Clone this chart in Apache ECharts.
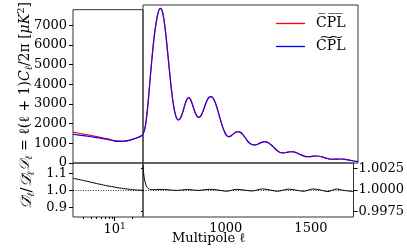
<!DOCTYPE html>
<html><head><meta charset="utf-8">
<script src="https://cdn.jsdelivr.net/npm/echarts@6/dist/echarts.min.js"></script>
<style>html,body{margin:0;padding:0;background:#fff}#c{width:407px;height:252px}</style>
</head><body><div id="c"></div><script>
// ---- data ----
const ellLow = [2,3,4,5,6,7,8,10,12,14,17,20,24,27,30];
const redLow = [1564,1471,1399,1342,1293,1250,1215,1136,1115,1117,1148,1205,1283,1351,1430];
const blueLow = [1460,1390,1335,1290,1250,1215,1185,1115,1100,1105,1140,1200,1280,1350,1430];
const ratioLow = [1.071,1.058,1.048,1.040,1.034,1.029,1.025,1.019,1.014,1.011,1.007,1.004,1.002,1.001,1.000];

const ellHigh = [30,45,60,75,90,105,120,135,150,165,180,195,210,225,240,255,270,285,300,315,330,345,360,375,390,405,420,435,450,470,490,510,530,550,570,590,610,630,650,670,690,710,730,750,770,790,810,830,850,870,890,910,930,950,970,990,1010,1030,1050,1075,1100,1125,1150,1175,1200,1225,1250,1275,1300,1330,1360,1395,1430,1465,1500,1535,1570,1605,1640,1680,1720,1760,1800,1840,1880,1915,1950,1990,2030,2070,2110,2150,2200,2250,2300,2350,2400,2450,2500];
// red and blue coincide at this resolution in the linear part
const dHighShared = [1430,1600,1900,2400,3050,3800,4550,5250,5900,6450,6900,7250,7500,7620,7600,7420,7080,6600,6020,5380,4720,4080,3500,3000,2620,2350,2180,2120,2150,2300,2550,2850,3100,3220,3170,2980,2720,2480,2310,2250,2300,2450,2680,2920,3120,3240,3270,3220,3080,2860,2580,2270,1980,1720,1510,1360,1300,1310,1370,1460,1530,1550,1510,1410,1270,1120,1000,920,890,900,950,1020,1050,1010,900,760,620,520,500,520,555,550,490,410,340,310,315,335,345,320,270,220,185,190,197,180,145,100,65];

const ellRatioHigh = [30,34,38,43,50,58,68,80,95,115,150,230,330,430,550,680,810,910,1010,1125,1215,1305,1432,1520,1604,1738,1820,1911,2026,2110,2200,2300,2360,2420,2500];
const ratioHigh = [1.0029,1.0024,1.0019,1.0015,1.0011,1.0008,1.0005,1.0003,1.00015,1.00006,1.00003,1.00008,1.00002,0.99995,1.00006,0.99995,1.00008,1.0,0.99985,1.00008,1.0,0.99988,1.00012,1.0,0.99985,1.0001,1.0,0.99985,1.00012,1.0,0.99982,1.00012,1.0,0.9999,0.99982];

const yTicksTop = [0,1000,2000,3000,4000,5000,6000,7000];
const yTicksRatioL = [0.9, 1.0, 1.1];
const yTicksRatioR = [0.9975, 1.0, 1.0025];
const xMajorLog = [10];
const xMinorLog = [3,4,5,6,7,8,9,20];
const xTickVals = [1000, 2000];
const xTickLabels = ['1000', '1500'];
const legendNames = {bar: 'C\u0305P\u0305L\u0305', tilde: 'C\u0360P\u0360L'};

const zip = (a, b) => a.map((v, i) => [v, b[i]]);
const FONT = 'DejaVu Serif';
const hid = {axisLine:{show:false}, axisTick:{show:false}, axisLabel:{show:false}, splitLine:{show:false}};
const tk = (len) => ({show:true, length:len, lineStyle:{color:'#000', width:1}});

const chart = echarts.init(document.getElementById('c'), null, {renderer:'canvas'});
const dotted = {silent:true, symbol:'none', label:{show:false}, animation:false,
  lineStyle:{type:[1,1.5], color:'#000', width:0.8}, data:[{yAxis:1}]};

chart.setOption({
  animation:false,
  textStyle:{fontFamily:FONT, color:'#000'},
  grid:[
    {left:73, top:5, width:70, height:158, show:true, borderColor:'#333', borderWidth:1},
    {left:143, top:5, width:215, height:158, show:true, borderColor:'#333', borderWidth:1},
    {left:73, top:163, width:70, height:54, show:true, borderColor:'#333', borderWidth:1},
    {left:143, top:163, width:215, height:54, show:true, borderColor:'#333', borderWidth:1}
  ],
  xAxis:[
    Object.assign({type:'log', gridIndex:0, min:2, max:30, position:'bottom'}, hid),
    Object.assign({type:'value', gridIndex:1, min:30, max:2500, position:'bottom'}, hid),
    {type:'log', gridIndex:2, min:2, max:30, position:'bottom', axisLine:{show:false}, splitLine:{show:false},
      axisTick:Object.assign(tk(4), {customValues:xMajorLog}),
      axisLabel:{customValues:xMajorLog, margin:5, fontFamily:FONT, fontSize:13, color:'#000',
        formatter:() => '{b|10}{s|1}',
        rich:{b:{fontFamily:FONT, fontSize:13, lineHeight:16}, s:{fontFamily:FONT, fontSize:9, lineHeight:8, verticalAlign:'top'}}}},
    {type:'log', gridIndex:2, min:2, max:30, position:'bottom', offset:0, axisLine:{show:false}, splitLine:{show:false},
      axisTick:Object.assign(tk(2), {customValues:xMinorLog}), axisLabel:{show:false}},
    {type:'value', gridIndex:3, min:30, max:2500, position:'bottom', axisLine:{show:false}, splitLine:{show:false},
      axisTick:{show:false},
      axisLabel:{customValues:xTickVals, margin:5, fontFamily:FONT, fontSize:13, color:'#000',
        formatter:(v) => xTickLabels[xTickVals.indexOf(v)]}}
  ],
  yAxis:[
    {type:'value', gridIndex:0, min:0, max:7790, axisLine:{show:false}, splitLine:{show:false},
      axisTick:Object.assign(tk(4), {customValues:yTicksTop}),
      axisLabel:{customValues:yTicksTop, margin:6, fontFamily:FONT, fontSize:13, color:'#000', formatter:(v) => String(v)},
      name:'{i|𝒟}{s|ℓ} = ℓ(ℓ + 1){i|C}{s|ℓ}/2π [{i|μK}{p|2}]', nameLocation:'middle', nameGap:39, nameRotate:90,
      nameMoveOverlap:false,
      nameTextStyle:{fontFamily:FONT, fontSize:14, color:'#000', lineHeight:18,
        rich:{i:{fontFamily:FONT, fontSize:14, fontStyle:'italic', lineHeight:18},
              s:{fontFamily:FONT, fontSize:10, fontStyle:'italic', lineHeight:10, verticalAlign:'bottom'},
              p:{fontFamily:FONT, fontSize:10, lineHeight:10, verticalAlign:'top'}}}},
    Object.assign({type:'value', gridIndex:1, min:0, max:7790}, hid),
    {type:'value', gridIndex:2, min:0.843, max:1.161, axisLine:{show:false}, splitLine:{show:false},
      axisTick:Object.assign(tk(4), {customValues:yTicksRatioL}),
      axisLabel:{customValues:yTicksRatioL, margin:6, fontFamily:FONT, fontSize:13, color:'#000',
        formatter:(v) => v.toFixed(1)},
      name:'{i|𝒟\u0304}{s|ℓ}/{i|𝒟\u0303}{s|ℓ}', nameLocation:'middle', nameGap:37, nameRotate:90,
      nameMoveOverlap:false,
      nameTextStyle:{fontFamily:FONT, fontSize:15, color:'#000', lineHeight:18,
        rich:{i:{fontFamily:FONT, fontSize:15, fontStyle:'italic', lineHeight:18},
              s:{fontFamily:FONT, fontSize:10, fontStyle:'italic', lineHeight:10, verticalAlign:'bottom'}}}},
    {type:'value', gridIndex:3, position:'right', min:0.99684, max:1.00316, axisLine:{show:false}, splitLine:{show:false},
      axisTick:Object.assign(tk(4), {customValues:yTicksRatioR}),
      axisLabel:{customValues:yTicksRatioR, margin:5, fontFamily:FONT, fontSize:13, color:'#000',
        formatter:(v) => v.toFixed(4)}},
    {type:'value', gridIndex:3, position:'left', min:0.99684, max:1.00316, axisLine:{show:false}, splitLine:{show:false},
      axisTick:Object.assign(tk(2), {customValues:yTicksRatioR}), axisLabel:{show:false}}
  ],
  legend:{left:276, top:16, padding:0, orient:'vertical', icon:'rect', itemWidth:29, itemHeight:1.3, itemGap:8,
    data:['bar','tilde'], formatter:(n) => legendNames[n],
    textStyle:{fontFamily:FONT, fontSize:14, color:'#000', lineHeight:15, padding:[0,0,0,6]}},
  title:{text:'Multipole ℓ', left:172, top:232, padding:0,
    textStyle:{fontFamily:FONT, fontSize:13, fontWeight:'normal', color:'#000'}},
  series:[
    {name:'bar', type:'line', xAxisIndex:0, yAxisIndex:0, data:zip(ellLow, redLow), smooth:0.3, showSymbol:false,
      lineStyle:{color:'#ff0000', width:1.2}, itemStyle:{color:'#ff0000'}},
    {name:'tilde', type:'line', xAxisIndex:0, yAxisIndex:0, data:zip(ellLow, blueLow), smooth:0.3, showSymbol:false,
      lineStyle:{color:'#0000ff', width:1.2}, itemStyle:{color:'#0000ff'}},
    {name:'bar', type:'line', xAxisIndex:1, yAxisIndex:1, data:zip(ellHigh, dHighShared), smooth:0.3, showSymbol:false,
      lineStyle:{color:'#ff0000', width:1.2}, itemStyle:{color:'#ff0000'}},
    {name:'tilde', type:'line', xAxisIndex:1, yAxisIndex:1, data:zip(ellHigh, dHighShared), smooth:0.3, showSymbol:false,
      lineStyle:{color:'#0000ff', width:1.2, opacity:0.85}, itemStyle:{color:'#0000ff'}},
    {name:'ratioLow', type:'line', xAxisIndex:2, yAxisIndex:2, data:zip(ellLow, ratioLow), smooth:0.3, showSymbol:false,
      lineStyle:{color:'#000', width:1}, markLine:dotted},
    {name:'ratioHigh', type:'line', xAxisIndex:4, yAxisIndex:3, data:zip(ellRatioHigh, ratioHigh), smooth:0.3, showSymbol:false,
      lineStyle:{color:'#000', width:1}, markLine:dotted}
  ]
});
</script></body></html>
